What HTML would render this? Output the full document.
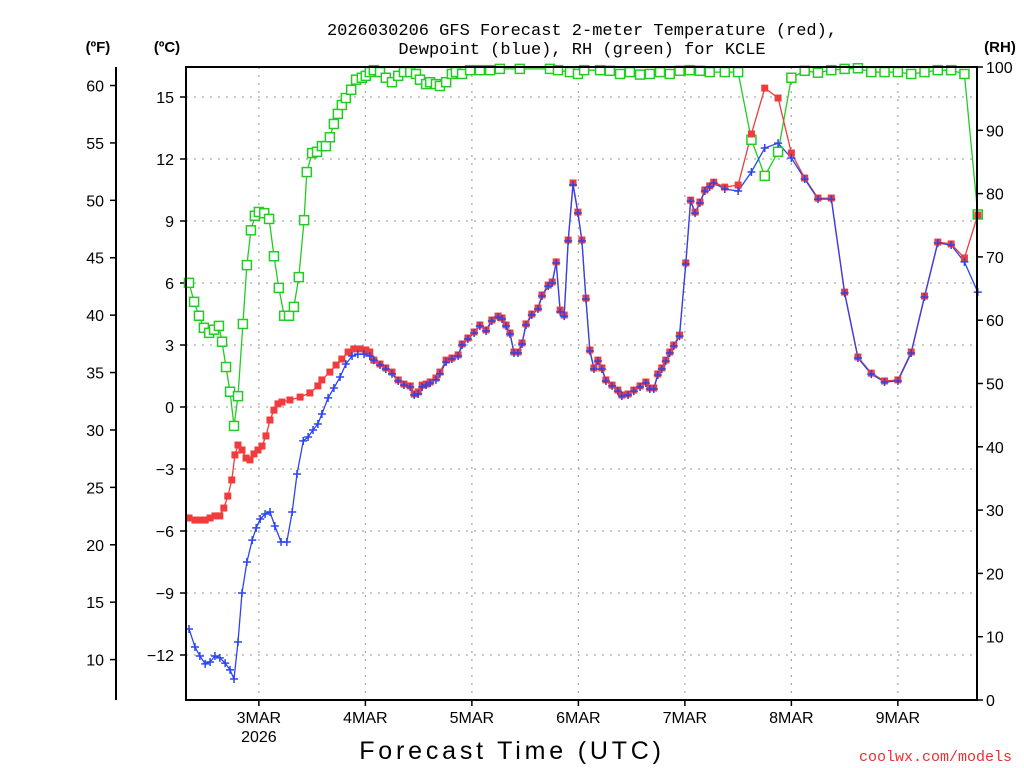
<!DOCTYPE html>
<html><head><meta charset="utf-8">
<style>
body{margin:0;background:#fff;}
svg{display:block;font-family:"Liberation Sans",sans-serif;}
</style></head>
<body>
<svg id="chart" width="1024" height="768" viewBox="0 0 1024 768" xmlns="http://www.w3.org/2000/svg">
<rect width="1024" height="768" fill="#fff"/>
<text x="582" y="35" font-size="17" text-anchor="middle" font-family="Liberation Mono, monospace">2026030206 GFS Forecast 2-meter Temperature (red),</text>
<text x="582" y="54" font-size="17" text-anchor="middle" font-family="Liberation Mono, monospace">Dewpoint (blue), RH (green) for KCLE</text>
<text x="98" y="52" font-size="15" font-weight="bold" text-anchor="middle">(ºF)</text>
<text x="167" y="52" font-size="15" font-weight="bold" text-anchor="middle">(ºC)</text>
<text x="1000" y="52" font-size="15" font-weight="bold" text-anchor="middle">(RH)</text>
<text x="512" y="759" font-size="25" text-anchor="middle" letter-spacing="3.8">Forecast Time (UTC)</text>
<text x="1012" y="761" font-size="15" fill="#e83030" text-anchor="end" font-family="Liberation Mono, monospace">coolwx.com/models</text>
<g id="grid"></g><g id="axes"></g><g id="series"></g>
<rect x="186" y="67" width="791" height="633" fill="none" stroke="#000" stroke-width="2"/>
</svg>
<script>
const tempHours=[2.25,3.6,4.7,5.9,7.0,8.1,9.2,10.1,11.0,11.9,12.6,13.3,14.2,15.1,16.0,16.9,17.8,18.7,19.6,20.5,21.4,22.3,23.2,25.0,27.3,29.5,31.3,32.2,34.0,35.4,36.7,38.1,39.4,40.8,42.1,43.0,43.9,45.3,46.6,48.0,49.4,50.7,52.1,53.0,53.9,54.8,55.7,56.6,57.9,58.8,60.2,61.5,62.9,63.8,65.1,66.5,67.8,69.2,70.5,71.9,72.8,73.7,74.6,75.5,76.4,77.3,78.2,79.5,80.9,81.8,83.2,84.1,85.0,85.9,86.8,87.7,88.8,89.9,90.8,91.7,92.6,93.5,94.4,95.3,96.2,97.6,98.9,99.8,101.2,102.5,103.9,105.2,106.1,107.0,107.9,108.8,109.7,110.6,111.5,112.8,114.2,115.3,116.3,117.4,118.5,119.6,120.5,123,126,129,132,135,138,141,144,147,150,153,156,159,162,165,168,171,174,177,180];
const tempC=[-5.37,-5.47,-5.47,-5.47,-5.37,-5.27,-5.27,-4.89,-4.31,-3.53,-2.32,-1.84,-2.08,-2.47,-2.56,-2.27,-2.08,-1.89,-1.40,-0.63,-0.15,0.15,0.24,0.34,0.48,0.68,1.02,1.31,1.69,2.03,2.32,2.66,2.81,2.81,2.76,2.66,2.27,2.08,1.89,1.69,1.31,1.11,1.02,0.63,0.73,1.06,1.11,1.21,1.40,1.69,2.27,2.37,2.52,3.05,3.34,3.63,3.97,3.73,4.21,4.40,4.31,3.97,3.58,2.66,2.66,3.10,4.02,4.50,4.79,5.42,5.90,6.05,7.02,4.69,4.45,8.08,10.84,9.43,8.08,5.27,2.76,1.89,2.27,1.89,1.31,1.06,0.82,0.58,0.63,0.82,1.02,1.21,0.92,0.92,1.60,1.89,2.27,2.66,3.00,3.48,6.97,10.01,9.43,9.92,10.50,10.70,10.88,10.64,10.74,13.21,15.43,14.95,12.29,11.08,10.11,10.11,5.56,2.42,1.64,1.26,1.31,2.66,5.37,7.98,7.89,7.21,9.29];
const dewHours=[2.25,3.6,4.7,5.9,7.0,8.1,9.2,10.4,11.5,12.4,13.3,14.2,15.3,16.5,17.4,18.3,19.4,20.5,21.6,23.0,24.3,25.5,26.6,28.0,29.1,30.2,31.3,32.2,33.6,34.9,36.3,37.6,39.0,40.3,41.7,43.0,43.9,45.3,46.6,48.0,49.4,50.7,52.1,53.0,53.9,54.8,55.7,56.6,57.9,58.8,60.2,61.5,62.9,63.8,65.1,66.5,67.8,69.2,70.5,71.9,72.8,73.7,74.6,75.5,76.4,77.3,78.2,79.5,80.9,81.8,83.2,84.1,85.0,85.9,86.8,87.7,88.8,89.9,90.8,91.7,92.6,93.5,94.4,95.3,96.2,97.6,98.9,99.8,101.2,102.5,103.9,105.2,106.1,107.0,107.9,108.8,109.7,110.6,111.5,112.8,114.2,115.3,116.3,117.4,118.5,119.6,120.5,123,126,129,132,135,138,141,144,147,150,153,156,159,162,165,168,171,174,177,180];
const dewC=[-10.74,-11.61,-12.05,-12.43,-12.34,-12.05,-12.14,-12.39,-12.72,-13.16,-11.37,-9.0,-7.50,-6.44,-5.85,-5.42,-5.18,-5.08,-5.76,-6.53,-6.53,-5.08,-3.24,-1.64,-1.45,-1.11,-0.82,-0.34,0.44,0.92,1.45,2.08,2.47,2.56,2.56,2.47,2.27,2.03,1.84,1.60,1.26,1.06,0.97,0.58,0.63,0.97,1.06,1.16,1.31,1.60,2.18,2.32,2.47,3.00,3.29,3.58,3.92,3.68,4.16,4.35,4.26,3.92,3.53,2.61,2.61,3.05,3.97,4.45,4.74,5.37,5.85,6.00,6.97,4.60,4.40,8.03,10.74,9.38,8.03,5.22,2.71,1.84,2.22,1.84,1.26,1.02,0.77,0.53,0.58,0.77,0.97,1.16,0.87,0.87,1.55,1.84,2.22,2.61,2.95,3.43,6.92,9.96,9.38,9.87,10.45,10.65,10.83,10.55,10.45,11.37,12.53,12.77,12.05,11.03,10.06,10.06,5.51,2.37,1.59,1.21,1.26,2.61,5.32,7.93,7.84,7.02,5.56];
const rhHours=[2.25,3.4,4.5,5.6,6.8,7.9,9.0,9.7,10.6,11.5,12.4,13.3,14.4,15.3,16.2,17.1,18.0,19.2,20.3,21.4,22.5,23.7,24.8,25.9,27.0,28.2,28.8,30.0,31.1,32.2,33.1,34.0,34.9,35.8,36.7,37.6,38.8,39.9,41.2,42.1,43.0,43.9,45.3,46.6,48.0,49.4,50.7,52.1,53.4,54.3,55.7,56.6,57.9,58.8,60.2,61.5,62.4,63.8,65.6,67.8,70.1,72.3,76.8,83.6,85.4,88.1,89.9,91.3,94.9,97.1,99.4,101.6,103.9,106.1,108.4,110.6,112.8,115.1,117.4,119.6,123,126,129,132,135,138,141,144,147,150,153,156,159,162,165,168,171,174,177,180];
const rhPct=[65.9,62.9,60.7,58.8,58.0,58.5,59.1,56.6,52.6,48.7,43.3,48.0,59.4,68.7,74.2,76.5,77.1,76.9,76.0,70.1,65.1,60.7,60.7,62.1,66.8,75.8,83.4,86.4,86.6,87.5,87.5,88.9,91.0,92.6,94.0,95.1,96.4,98.0,98.3,98.6,99.2,99.5,99.2,98.3,97.6,98.6,99.2,99.2,98.9,98.0,97.3,97.6,97.3,97.0,97.6,98.9,99.2,98.9,99.5,99.5,99.5,99.7,99.7,99.7,99.5,99.2,98.9,99.5,99.5,99.4,98.9,99.2,98.8,98.9,99.2,98.9,99.4,99.5,99.4,99.2,99.2,99.2,88.5,82.8,86.6,98.3,99.4,99.1,99.5,99.7,99.8,99.2,99.2,99.2,98.9,99.2,99.5,99.5,98.9,76.7];
const celsiusTicks=[-12,-9,-6,-3,0,3,6,9,12,15];
const fahrenheitTicks=[10,15,20,25,30,35,40,45,50,55,60];
const rhTicks=[0,10,20,30,40,50,60,70,80,90,100];
const dayHours=[18,42,66,90,114,138,162];
const dayLabels=["3MAR","4MAR","5MAR","6MAR","7MAR","8MAR","9MAR"];

const NS="http://www.w3.org/2000/svg";
const X0=186,X1=977,Y0=67,Y1=700;
const xH=h=>179+h*4.4375;
const yC=c=>407-c*20.667;
const yF=f=>yC((f-32)*5/9);
const yRH=r=>700-r*6.33;
function mk(tag,attrs,parent){const e=document.createElementNS(NS,tag);for(const k in attrs)e.setAttribute(k,attrs[k]);parent.appendChild(e);return e;}
const grid=document.getElementById('grid'),axes=document.getElementById('axes'),series=document.getElementById('series');

celsiusTicks.forEach(c=>{
  const y=yC(c);
  const g=mk('line',{x1:X0,x2:X1,y1:y,y2:y,stroke:'#aaa','stroke-width':1.3,'stroke-dasharray':'2,6'},grid);
  
  
  const t=mk('line',{x1:X0-6,x2:X0,y1:y,y2:y,stroke:'#000','stroke-width':1.5},axes);
  
  
  const l=mk('text',{x:X0-12,y:y+6,'font-size':16,'text-anchor':'end'},axes);
  l.textContent=c<0?'\u2212'+Math.abs(c):String(c);
  
  
});
const fa=mk('line',{x1:116,x2:116,y1:Y0,y2:Y1,stroke:'#000','stroke-width':2},axes);


fahrenheitTicks.forEach(f=>{
  const y=yF(f);
  const t=mk('line',{x1:110,x2:116,y1:y,y2:y,stroke:'#000','stroke-width':1.5},axes);
  
  
  const l=mk('text',{x:104,y:y+6,'font-size':16,'text-anchor':'end'},axes);
  l.textContent=String(f);
  
  
});
rhTicks.forEach(r=>{
  const y=yRH(r);
  const t=mk('line',{x1:X1,x2:X1+6,y1:y,y2:y,stroke:'#000','stroke-width':1.5},axes);
  
  
  const l=mk('text',{x:X1+9,y:y+6,'font-size':16,'text-anchor':'start'},axes);
  l.textContent=String(r);
  
  
});
dayHours.forEach((h,i)=>{
  const x=xH(h);
  const g=mk('line',{x1:x,x2:x,y1:Y0,y2:Y1,stroke:'#aaa','stroke-width':1.3,'stroke-dasharray':'2,6'},grid);
  
  
  const t=mk('line',{x1:x,x2:x,y1:Y1,y2:Y1+6,stroke:'#000','stroke-width':1.5},axes);
  
  
  const l=mk('text',{x:x,y:723,'font-size':16,'text-anchor':'middle'},axes);
  l.textContent=dayLabels[i];
  
  
});
const yr=mk('text',{x:xH(dayHours[0]),y:742,'font-size':16,'text-anchor':'middle'},axes);
yr.textContent='2026';



function drawLine(hours,vals,ymap,color,name){
  const pts=hours.map((h,i)=>xH(h).toFixed(1)+','+ymap(vals[i]).toFixed(1)).join(' ');
  const p=mk('polyline',{points:pts,fill:'none',stroke:color,'stroke-width':1.3},series);
  
  
}
drawLine(rhHours,rhPct,yRH,'#22cc22','rh-line');
drawLine(tempHours,tempC,yC,'#f03c3c','temperature-line');
drawLine(dewHours,dewC,yC,'#2a45f0','dewpoint-line');
rhHours.forEach((h,i)=>{
  const r=mk('rect',{x:xH(h)-4.5,y:yRH(rhPct[i])-4.5,width:9,height:9,fill:'#fff',stroke:'#22cc22','stroke-width':1.5},series);
  
  
});
tempHours.forEach((h,i)=>{
  const r=mk('rect',{x:xH(h)-3.5,y:yC(tempC[i])-3.5,width:7,height:7,fill:'#f03c3c'},series);
  
  
});
dewHours.forEach((h,i)=>{
  const x=xH(h),y=yC(dewC[i]);
  const p=mk('path',{d:`M${x-4},${y}H${x+4}M${x},${y-4}V${y+4}`,stroke:'#2a45f0','stroke-width':1.5},series);
  
  
});
</script>
</body></html>
